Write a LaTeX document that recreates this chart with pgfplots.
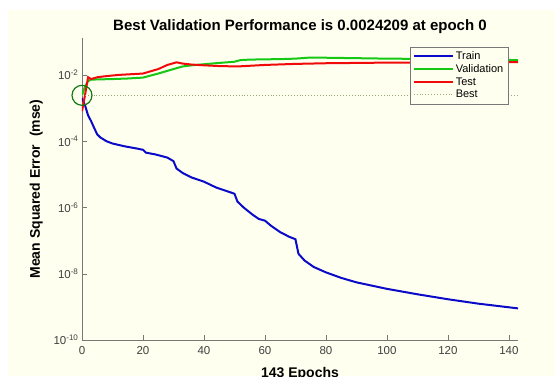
\documentclass[border=0pt]{standalone}
\usepackage{pgfplots}
\pgfplotsset{compat=1.18}
\usepackage{fontspec}
\setmainfont{Liberation Sans}
\definecolor{cream}{RGB}{255,255,240}
\definecolor{axgray}{RGB}{120,120,120}
\definecolor{mblue}{RGB}{10,10,200}
\definecolor{mgreen}{RGB}{20,200,20}
\definecolor{mred}{RGB}{240,10,10}
\definecolor{dgreen}{RGB}{20,120,20}
\definecolor{bestc}{RGB}{150,170,120}
\begin{document}
\begin{tikzpicture}
\useasboundingbox (0pt,0pt) rectangle (555pt,376pt);
\fill[white] (0pt,0pt) rectangle (555pt,376pt);
\fill[cream] (8pt,0pt) rectangle (555pt,366pt);
\begin{scope}
\clip (0pt,0pt) rectangle (555pt,376pt);
\begin{axis}[
  at={(82pt,36pt)}, anchor=south west,
  scale only axis, width=436pt, height=302pt,
  axis background/.style={fill=cream},
  ymode=log,
  xmin=0, xmax=143,
  ymin=1e-10, ymax=0.13,
  axis lines=left,
  axis line style={axgray, -},
  tick style={axgray},
  major tick length=5pt, minor tick length=3pt,
  xtick={0,20,...,140},
  ytick={1e-10,1e-8,1e-6,1e-4,1e-2},
  yticklabels={10\textsuperscript{-10},10\textsuperscript{-8},10\textsuperscript{-6},10\textsuperscript{-4},10\textsuperscript{-2}},
  /pgf/number format/assume math mode=true,
  ticklabel style={font=\fontsize{11.5}{13}\selectfont, text=black!75},
  xticklabel style={yshift=-3pt},
  tick align=inside,
  title={\bfseries Best Validation Performance is 0.0024209 at epoch 0},
  title style={font=\fontsize{15}{17}\selectfont, yshift=-5pt},
  xlabel={\bfseries 143 Epochs},
  ylabel={\bfseries Mean Squared Error\ \ (mse)},
  label style={font=\fontsize{14}{16}\selectfont},
  xlabel style={yshift=-6pt},
  ylabel style={yshift=4pt},
  legend style={at={(0.977,0.97)}, anchor=north east, draw=axgray, fill=cream,
    font=\fontsize{11}{13}\selectfont, row sep=-0.5pt, inner sep=2.5pt,
    /tikz/every even column/.append style={column sep=-1pt}},
  legend cell align=left,
  legend image code/.code={\draw[#1] (0pt,0pt) -- (39pt,0pt);},
  clip mode=individual,
]
\addplot[mblue, line width=2pt] coordinates {
(0,2.0e-3)(1,1.2e-3)(2,6e-4)(3,4e-4)(4,2.5e-4)(5,1.6e-4)(6,1.3e-4)(8,1.0e-4)
(10,8.5e-5)(14,7e-5)(18,6e-5)(20,5.5e-5)(21,4.5e-5)(24,4e-5)(28,3.2e-5)(30,2.5e-5)
(31,1.5e-5)(33,1.1e-5)(36,8e-6)(40,6e-6)(44,4e-6)(48,3e-6)(50,2.6e-6)(51,1.5e-6)
(53,1.0e-6)(56,6e-7)(58,4.5e-7)(60,4e-7)(62,2.8e-7)(65,1.8e-7)(68,1.3e-7)(70,1.1e-7)
(71,4e-8)(73,2.5e-8)(76,1.6e-8)(80,1.1e-8)(85,7.5e-9)(90,5.5e-9)(100,3.5e-9)
(110,2.4e-9)(120,1.7e-9)(130,1.25e-9)(143,9e-10)};
\addlegendentry{Train}
\addplot[mgreen, line width=2pt] coordinates {
(0,2.42e-3)(1,4.5e-3)(2,6.5e-3)(3,7.2e-3)(5,7.3e-3)(10,7.5e-3)(15,7.8e-3)(20,8.3e-3)
(25,1.1e-2)(30,1.5e-2)(33,1.8e-2)(36,1.95e-2)(40,2.1e-2)(45,2.3e-2)(50,2.5e-2)
(52,2.8e-2)(55,2.9e-2)(65,3.0e-2)(70,3.1e-2)(74,3.3e-2)(80,3.3e-2)(90,3.2e-2)
(100,3.1e-2)(120,3.0e-2)(143,2.8e-2)};
\addlegendentry{Validation}
\addplot[mred, line width=2pt] coordinates {
(0,8e-4)(1,2.5e-3)(2,8.5e-3)(3,7.5e-3)(5,8.5e-3)(8,9.2e-3)(12,1.0e-2)(20,1.1e-2)
(25,1.5e-2)(28,2.0e-2)(31,2.4e-2)(33,2.2e-2)(36,2.05e-2)(40,1.95e-2)(45,1.85e-2)
(51,1.8e-2)(60,2.0e-2)(70,2.15e-2)(80,2.25e-2)(100,2.35e-2)(120,2.4e-2)(143,2.45e-2)};
\addlegendentry{Test}
\addplot[bestc, line width=0.9pt, dotted] coordinates {(0,0.0024209)(143,0.0024209)};
\addlegendentry{Best}
\addplot[dgreen, line width=1.2pt, only marks, mark=o, mark size=10pt, forget plot] coordinates {(0,0.0024209)};
\end{axis}
\end{scope}
\end{tikzpicture}
\end{document}
